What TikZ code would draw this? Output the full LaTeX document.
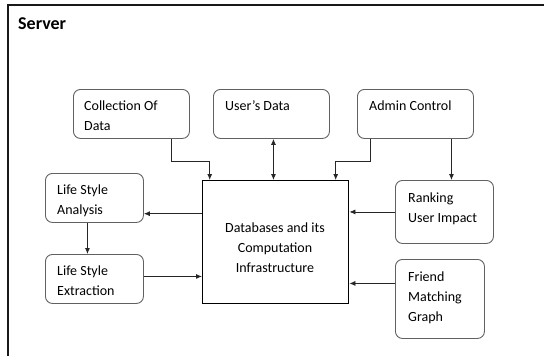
\documentclass[tikz,border=0pt]{standalone}
\usepackage{fontspec}
\setmainfont{Carlito}
\usetikzlibrary{arrows.meta}
\tikzset{
  module/.style={draw=black!62, line width=0.9pt, rounded corners=7pt, anchor=north west, inner sep=0pt},
  core/.style={draw=black, line width=1.4pt, anchor=north west, inner sep=0pt},
  modtext/.style={anchor=north west, align=left, inner sep=0pt, font=\fontsize{14}{20}\selectfont},
  flow/.style={-{Latex[length=6pt,width=5pt]}, line width=0.8pt, draw=black!85},
}
\begin{document}
\begin{tikzpicture}[x=1pt,y=-1pt]
    \useasboundingbox (0,0) rectangle (544,356);
    \draw [line width=1.5pt, black!90] (8,370) |- (560,5);
    \node [anchor=base west, inner sep=0pt, font=\fontsize{18}{20}\selectfont\bfseries] (server) at (18,29) {Server};

    \node [module, minimum width=116pt, minimum height=49pt] (coll) at (73,89) {};
    \node [module, minimum width=116pt, minimum height=49pt] (users) at (213,89) {};
    \node [module, minimum width=116pt, minimum height=49pt] (admin) at (357,89) {};
    \node [module, minimum width=98pt, minimum height=49pt] (lsa) at (45,173) {};
    \node [module, minimum width=98pt, minimum height=49pt] (lse) at (45,254) {};
    \node [core, minimum width=146pt, minimum height=123pt] (db) at (202,180) {};
    \node [module, minimum width=98pt, minimum height=63pt] (rank) at (395,180) {};
    \node [module, minimum width=89pt, minimum height=79pt] (friend) at (395,259) {};

    \node [modtext] (coll-t) at (84,100.5) {Collection Of\\Data};
    \node [modtext] (users-t) at (225,100.5) {User’s Data};
    \node [modtext] (admin-t) at (369,100.5) {Admin Control};
    \node [modtext] (lsa-t) at (57,185) {Life Style\\Analysis};
    \node [modtext] (lse-t) at (57,266) {Life Style\\Extraction};
    \node [modtext] (rank-t) at (408,193) {Ranking\\User Impact};
    \node [modtext] (friend-t) at (408,272) {Friend\\Matching\\Graph};
    \node [modtext, anchor=center, align=center] (db-t) at (275,248) {Databases and its\\Computation\\Infrastructure};

    \draw [flow] ([xshift=40pt]coll.south) -- ++(0,22) -| ([xshift=-66pt]db.north);
    \draw [flow, {Latex[length=6pt,width=5pt]}-{Latex[length=6pt,width=5pt]}] ([xshift=2pt]users.south) -- ([xshift=2pt]users.south |- db.north);
    \draw [flow] ([xshift=-45pt]admin.south) -- ++(0,22) -| ([xshift=60pt]db.north);
    \draw [flow] ([xshift=36pt]admin.south) -- ([xshift=36pt]admin.south |- rank.north);
    \draw [flow] ([yshift=28.5pt]db.west) -- ([yshift=28.5pt]db.west -| lsa.east);
    \draw [flow] ([xshift=-7pt]lsa.south) -- ([xshift=-7pt]lsa.south |- lse.north);
    \draw [flow] ([yshift=2.5pt]lse.east) -- ([yshift=2.5pt]lse.east -| db.west);
    \draw [flow] (rank.west) -- (rank.west -| db.east);
    \draw [flow] ([yshift=15.5pt]friend.west) -- ([yshift=15.5pt]friend.west -| db.east);
\end{tikzpicture}
\end{document}
